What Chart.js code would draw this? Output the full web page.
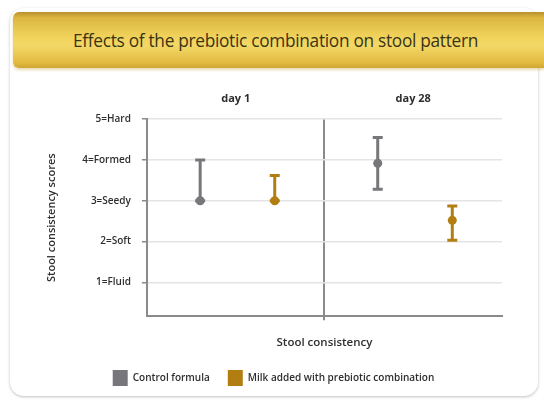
<!DOCTYPE html>
<html lang="en">
<head>
    <meta charset="UTF-8">
    <title>Effects of the prebiotic combination on stool pattern</title>
    <script src="https://cdn.jsdelivr.net/npm/chart.js"></script>
    <style>
        html, body {
            margin: 0;
            padding: 0;
            width: 544px;
            height: 400px;
            background: #fff;
            overflow: hidden;
            font-family: "Open Sans", sans-serif;
        }
        .card {
            position: absolute;
            left: 10px;
            top: 8px;
            width: 528px;
            height: 388px;
            border-radius: 14px;
            box-shadow: 0 1px 3px rgba(0, 0, 0, 0.25);
            background: #fff;
        }
        .banner {
            position: absolute;
            left: 13px;
            top: 12px;
            width: 531px;
            height: 56px;
            border-radius: 6px 0 0 6px;
            background: linear-gradient(#b8902c 0%, #dcb640 10%, #f1d35c 45%, #f3d867 60%, #e2bb40 90%, #d0a633 100%);
            box-shadow: 0 2px 3px rgba(190, 150, 40, 0.35);
            display: flex;
            align-items: center;
            justify-content: center;
        }
        .banner span {
            color: #3b3414;
            font-size: 17.3px;
            font-weight: 500;
            letter-spacing: -0.3px;
            margin-left: -6px;
        }
        .wrap {
            position: absolute;
            left: 0;
            top: 70px;
            width: 544px;
            height: 330px;
        }
    </style>
</head>
<body>
    <div class="card"></div>
    <div class="banner"><span>Effects of the prebiotic combination on stool pattern</span></div>
    <div class="wrap"><canvas id="chart"></canvas></div>

    <script>
        // values
        const days = ['day 1', 'day 28'];
        const seriesNames = ['Control formula', 'Milk added with prebiotic combination'];
        const controlMean = [3.0, 3.92];
        const controlLow = [3.0, 3.28];
        const controlHigh = [4.0, 4.55];
        const prebioticMean = [3.0, 2.52];
        const prebioticLow = [3.0, 2.03];
        const prebioticHigh = [3.62, 2.87];
        const yTickLabels = ['1=Fluid', '2=Soft', '3=Seedy', '4=Formed', '5=Hard'];

        const grey = '#77777b';
        const gold = '#b27e12';
        const textCol = '#2e2e2e';

        function points(means, lows, highs, shift) {
            return means.map((m, i) => ({ x: i + shift, y: m, lo: lows[i], hi: highs[i] }));
        }

        // whiskers drawn through the chart scales
        const errorBars = {
            id: 'errorBars',
            afterDatasetsDraw(chart) {
                const { ctx, scales } = chart;
                chart.data.datasets.forEach((ds, di) => {
                    if (!chart.isDatasetVisible(di)) return;
                    ctx.save();
                    ctx.strokeStyle = ds.backgroundColor;
                    ctx.lineWidth = 3;
                    ds.data.forEach(p => {
                        const x = scales.x.getPixelForValue(p.x);
                        const yLo = scales.y.getPixelForValue(p.lo);
                        const yHi = scales.y.getPixelForValue(p.hi);
                        ctx.beginPath();
                        ctx.moveTo(x, yLo);
                        ctx.lineTo(x, yHi);
                        ctx.moveTo(x - 5, yHi);
                        ctx.lineTo(x + 5, yHi);
                        ctx.moveTo(x - 5, yLo);
                        ctx.lineTo(x + 5, yLo);
                        ctx.stroke();
                    });
                    ctx.restore();
                });
            }
        };

        new Chart(document.getElementById('chart'), {
            type: 'scatter',
            data: {
                datasets: [
                    {
                        label: seriesNames[0],
                        data: points(controlMean, controlLow, controlHigh, 0.3),
                        backgroundColor: grey,
                        borderColor: grey,
                        borderWidth: 0,
                        pointRadius: 4.5
                    },
                    {
                        label: seriesNames[1],
                        data: points(prebioticMean, prebioticLow, prebioticHigh, 0.72),
                        backgroundColor: gold,
                        borderColor: gold,
                        borderWidth: 0,
                        pointRadius: 4.5
                    }
                ]
            },
            options: {
                responsive: true,
                maintainAspectRatio: false,
                animation: false,
                layout: { padding: { left: 45, right: 42, top: 8, bottom: 4 } },
                plugins: {
                    tooltip: { enabled: false },
                    legend: {
                        position: 'bottom',
                        labels: {
                            boxWidth: 15,
                            boxHeight: 16,
                            padding: 18,
                            color: textCol,
                            font: { family: 'Open Sans', size: 10, weight: '600' }
                        }
                    }
                },
                scales: {
                    x: {
                        type: 'linear',
                        min: 0,
                        max: 2,
                        afterBuildTicks: s => { s.ticks = [{ value: 1 }]; },
                        ticks: { display: false },
                        grid: { color: '#8a8a8a', lineWidth: 2, drawTicks: true, tickLength: 4 },
                        border: { color: '#8a8a8a', width: 2 },
                        title: {
                            display: true,
                            text: 'Stool consistency',
                            color: textCol,
                            font: { family: 'Open Sans', size: 11.5, weight: '600' },
                            padding: { top: 16, bottom: 2 }
                        }
                    },
                    x2: {
                        type: 'linear',
                        position: 'top',
                        min: 0,
                        max: 2,
                        afterBuildTicks: s => { s.ticks = days.map((d, i) => ({ value: i + 0.5 })); },
                        ticks: {
                            padding: 14,
                            color: textCol,
                            font: { family: 'Open Sans', size: 11, weight: '700' },
                            callback: (v, i) => days[i]
                        },
                        grid: { display: false, drawTicks: false },
                        border: { display: false }
                    },
                    y: {
                        min: 0.17,
                        max: 5,
                        afterBuildTicks: s => { s.ticks = yTickLabels.map((t, i) => ({ value: i + 1 })); },
                        ticks: {
                            padding: 11,
                            color: textCol,
                            font: { family: 'Open Sans', size: 10, weight: '600' },
                            callback: (v, i) => yTickLabels[i]
                        },
                        grid: { color: '#e4e4e4', lineWidth: 1.5, tickColor: '#8a8a8a', tickLength: 5 },
                        border: { color: '#8a8a8a', width: 2 },
                        title: {
                            display: true,
                            text: 'Stool consistency scores',
                            color: textCol,
                            font: { family: 'Open Sans', size: 11, weight: '600' },
                            padding: { top: 0, bottom: 13 }
                        }
                    }
                }
            },
            plugins: [errorBars]
        });
    </script>
</body>
</html>
